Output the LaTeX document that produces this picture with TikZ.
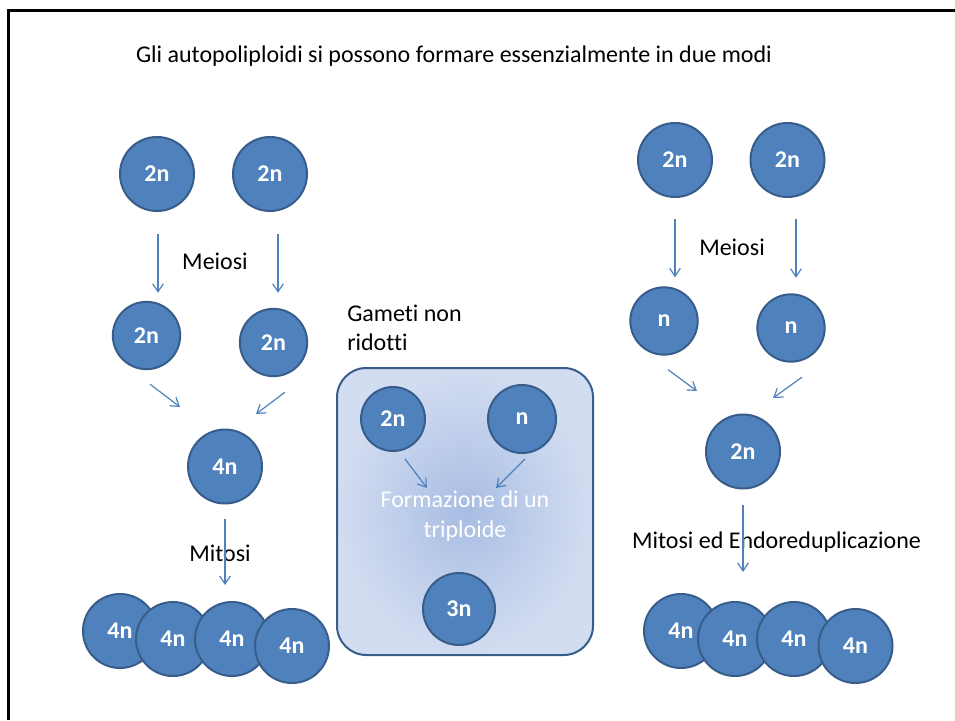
\documentclass[tikz,border=0pt]{standalone}
\usepackage{fontspec}
\setmainfont{Carlito}[Ligatures=NoCommon]
\usetikzlibrary{arrows.meta,calc}
\definecolor{CellFill}{HTML}{4F81BD}
\definecolor{CellLine}{HTML}{385D8A}
\definecolor{PoolIn}{HTML}{A8BDE3}
\definecolor{PoolOut}{HTML}{D3DDF1}

\begin{document}
\begin{tikzpicture}[x=0.75pt,y=-0.75pt,
    cell/.style={circle,fill=CellFill,draw=CellLine,line width=1.5pt,inner sep=0pt,
      text=white,font=\fontsize{18}{22}\selectfont\bfseries},
    bigcell/.style={cell,minimum size=55.5pt},
    smallcell/.style={cell,minimum size=50.5pt},
    arr/.style={draw=CellFill,line width=0.9pt,-{Straight Barb[length=6pt,width=8pt]}},
    lbl/.style={font=\fontsize{18}{22}\selectfont,inner sep=0pt}]
    \useasboundingbox (0,0) rectangle (955,720);
    % frame
    \draw[line width=2.2pt] (8.5,720) |- (955,10.5);
    % title
    \node[lbl] (title) at (454,56) {Gli autopoliploidi si possono formare essenzialmente in due modi};

    % left: gameti non ridotti
    \node[bigcell] (a1) at (157,174) {2n};
    \node[bigcell] (a2) at (270,174) {2n};
    \node[lbl] (meiL) at (215,261) {Meiosi};
    \node[smallcell] (b1) at (146.5,335.5) {2n};
    \node[smallcell] (b2) at (273.5,342.5) {2n};
    \node[bigcell] (c1) at (225,466.5) {4n};
    \node[lbl] (mitL) at (220,553) {Mitosi};
    \node[bigcell] (d1) at (120,631) {4n};
    \node[bigcell] (d2) at (173,639) {4n};
    \node[bigcell] (d3) at (232,639) {4n};
    \node[bigcell] (d4) at (292,646) {4n};
    \draw[arr] ($(a1.south)+(1,22)$) -- ($(b1.north)+(11.5,-8)$);
    \draw[arr] ($(a2.south)+(8,22)$) -- ($(b2.north)+(4.5,-15)$);
    \draw[arr] ($(b1.south)+(3.5,14)$) -- ($(c1.north)+(-45,-21.5)$);
    \draw[arr] ($(b2.south)+(11.5,15)$) -- ($(c1.north)+(31,-14.5)$);
    \draw[arr] ($(c1.south)+(0,14.5)$) -- ($(d3.north)+(-7,-16)$);

    % middle: triploide
    \node[lbl,anchor=west,align=left] (gam) at (347,328) {Gameti non\\ridotti};
    \shade[inner color=PoolIn,outer color=PoolOut] (337,368) [rounded corners=22pt] rectangle (593,655);
    \draw[CellLine,line width=1.5pt,rounded corners=22pt] (337,368) rectangle (593,655);
    \node[cell,minimum size=48pt] (g1) at (393,419) {2n};
    \node[cell,minimum size=51pt] (g2) at (522,419) {n};
    \node[lbl,text=white,align=center] (fus) at (465,516) {Formazione di un\\triploide};
    \node[cell,minimum size=54pt] (g3) at (459,609) {3n};
    \draw[arr] ($(g1.south)+(12,7)$) -- ($(g1.south)+(34,36)$);
    \draw[arr] ($(g2.south)+(3,5)$) -- ($(g2.south)+(-26,34)$);

    % right: mitosi ed endoreduplicazione
    \node[bigcell] (h1) at (675,160) {2n};
    \node[bigcell] (h2) at (787.5,160) {2n};
    \node[lbl] (meiR) at (732,247) {Meiosi};
    \node[smallcell] (k1) at (664,321) {n};
    \node[smallcell] (k2) at (791,328) {n};
    \node[bigcell] (m1) at (743,451.5) {2n};
    \node[lbl] (mitR) at (776.5,542) {Mitosi ed Endoreduplicazione};
    \node[bigcell] (p1) at (681,631) {4n};
    \node[bigcell] (p2) at (735,639) {4n};
    \node[bigcell] (p3) at (794,639) {4n};
    \node[bigcell] (p4) at (855.5,646) {4n};
    \draw[arr] ($(h1.south)+(0,21)$) -- ($(k1.north)+(11,-9)$);
    \draw[arr] ($(h2.south)+(8.5,21)$) -- ($(k2.north)+(5,-15.5)$);
    \draw[arr] ($(k1.south)+(4,14)$) -- ($(m1.north)+(-46,-22.5)$);
    \draw[arr] ($(k2.south)+(11,14.5)$) -- ($(m1.north)+(30,-15.5)$);
    \draw[arr] ($(m1.south)+(0,15.5)$) -- ($(p2.north)+(8,-29)$);
\end{tikzpicture}
\end{document}
